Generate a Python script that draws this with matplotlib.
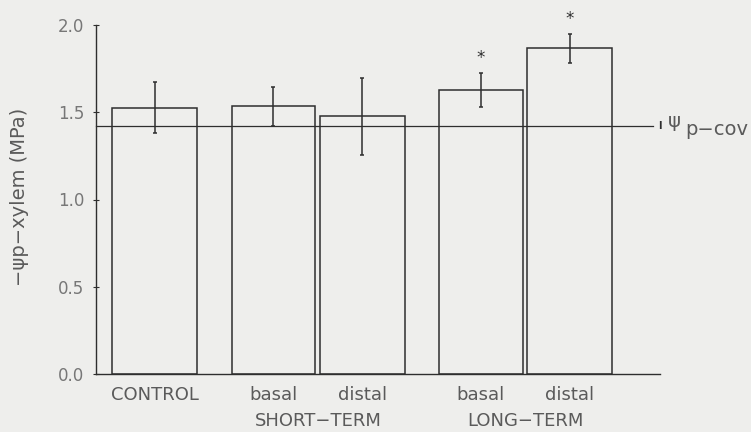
import matplotlib
matplotlib.use("Agg")
import matplotlib.pyplot as plt
import numpy as np

# values (MPa)
labels = ["CONTROL", "basal", "distal", "basal", "distal"]
groups = ["SHORT\u2212TERM", "LONG\u2212TERM"]
psi_xylem = [1.526, 1.537, 1.48, 1.629, 1.869]
err_low = [1.383, 1.423, 1.257, 1.531, 1.783]
err_high = [1.674, 1.646, 1.697, 1.726, 1.949]
signif = ["", "", "", "*", "*"]
psi_cov = 1.423

yticks = [0.0, 0.5, 1.0, 1.5, 2.0]

def main():
    bg = "#eeeeec"
    ink = "#2e2e2e"
    txt = "#5a5a5a"

    fig = plt.figure(figsize=(7.51, 4.32), dpi=100, facecolor=bg)
    # axes placed in pixel terms: x 96..660, y 25..374
    ax = fig.add_axes([96 / 751, 58 / 432, 564 / 751, 349 / 432])
    ax.set_facecolor(bg)

    # bar centres in units of one bar width (about 85 px)
    pos = np.array([0.694, 2.088, 3.135, 4.529, 5.571])
    widths = [1.0, 0.98, 1.0, 0.99, 1.0]
    vals = np.array(psi_xylem)

    ax.bar(pos, vals, width=widths, facecolor="none", edgecolor=ink, linewidth=1.1)

    yerr = np.array([vals - np.array(err_low), np.array(err_high) - vals])
    ax.errorbar(pos, vals, yerr=yerr, fmt="none", ecolor=ink, elinewidth=1.1,
                capsize=1.5, capthick=1.1)

    for x, hi, s in zip(pos, err_high, signif):
        if s:
            ax.text(x, hi + 0.035, s, ha="center", va="bottom", fontsize=12,
                    color=ink)

    # reference line for cover-sheet water potential
    ax.plot([0, 6.555], [psi_cov, psi_cov], color=ink, linewidth=0.9, clip_on=False)
    ax.text(6.63, psi_cov, "I", ha="center", va="center", fontsize=7, color=ink,
            fontweight="bold")
    ax.text(6.73, psi_cov + 0.025, "\u03c8", ha="left", va="center", fontsize=14,
            color=txt)
    ax.text(6.93, psi_cov - 0.02, "p\u2212cov", ha="left", va="center",
            fontsize=14, color=txt)

    ax.set_xlim(0, 564 / 85)
    ax.set_ylim(0, 2.0)
    ax.set_yticks(yticks)
    ax.set_yticklabels([f"{t:.1f}" for t in yticks], fontsize=12, color="#777777")
    ax.tick_params(axis="y", direction="inout", length=5, width=0.8, color=ink, pad=6)
    ax.set_xticks([])

    for side in ["top", "right"]:
        ax.spines[side].set_visible(False)
    for side in ["left", "bottom"]:
        ax.spines[side].set_color(ink)
        ax.spines[side].set_linewidth(1.0)

    for x, lab in zip(pos, labels):
        ax.text(x, -0.07, lab, ha="center", va="top", fontsize=13, color=txt)
    ax.text((pos[1] + pos[2]) / 2, -0.22, groups[0], ha="center", va="top",
            fontsize=13, color=txt)
    ax.text((pos[3] + pos[4]) / 2, -0.22, groups[1], ha="center", va="top",
            fontsize=13, color=txt)

    fig.text(20 / 751, 1 - 197 / 432, "\u2212\u03c8p\u2212xylem (MPa)",
             rotation=90, ha="center", va="center", fontsize=14, color=txt)

    fig.savefig("out.png", dpi=100, facecolor=bg)


if __name__ == "__main__":
    main()
